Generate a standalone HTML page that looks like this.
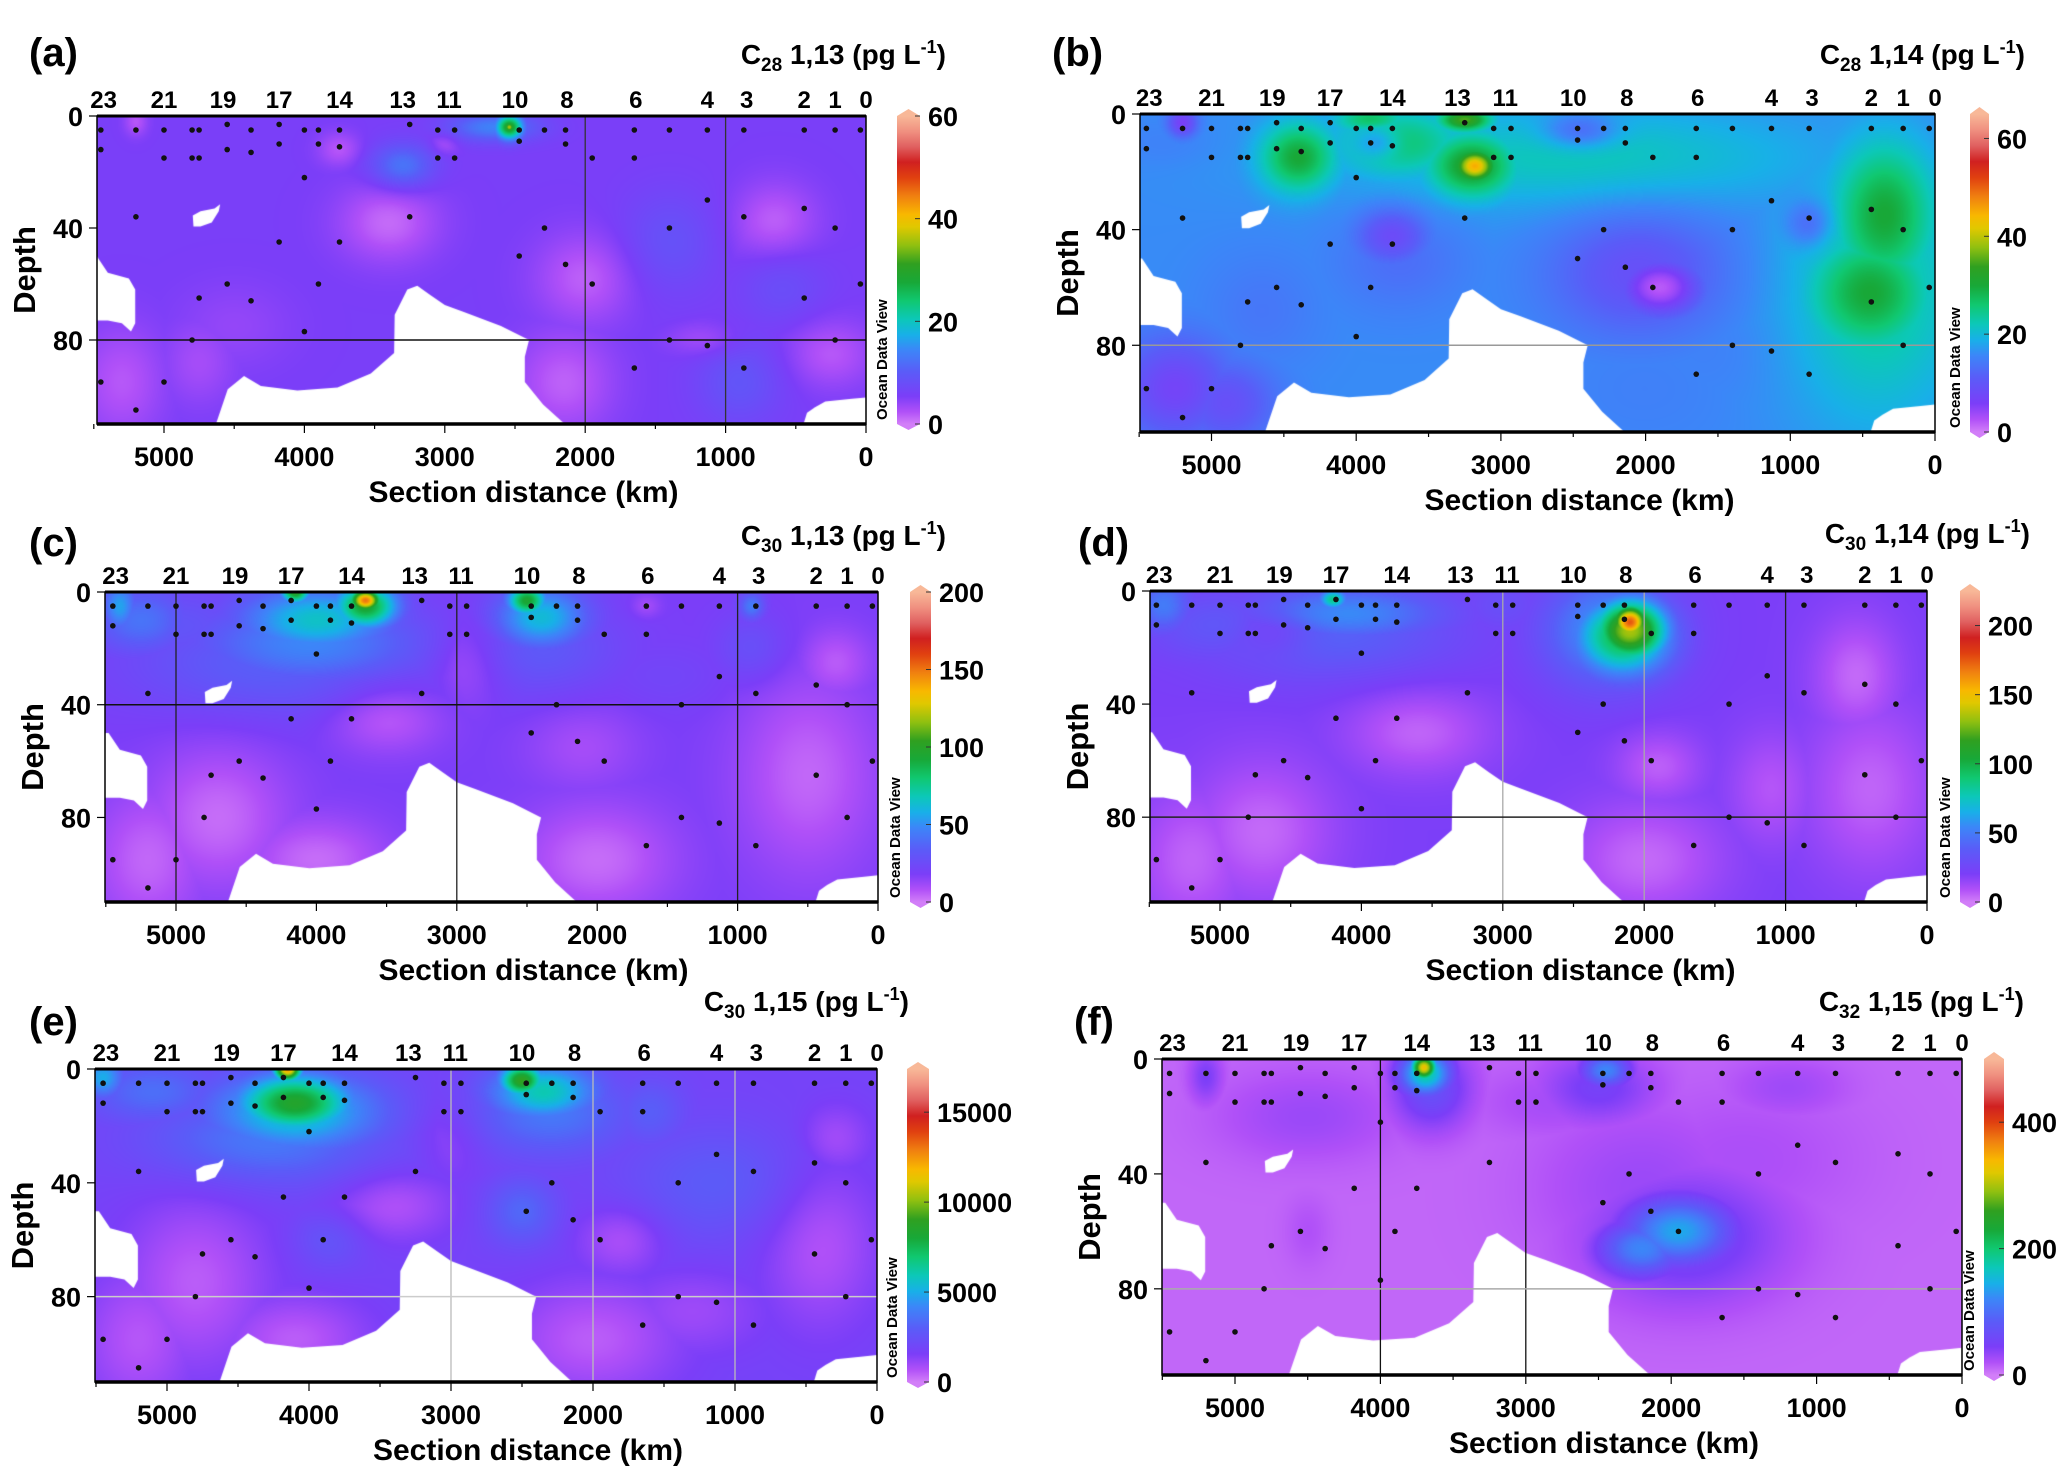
<!DOCTYPE html>
<html><head><meta charset="utf-8">
<style>
html,body{margin:0;padding:0;background:#fff;}
#wrap{position:relative;width:2067px;height:1466px;overflow:hidden;background:#fff;}
canvas{position:absolute;}
svg{position:absolute;left:0;top:0;}
text{font-family:"Liberation Sans",sans-serif;font-weight:bold;fill:#000;}
</style></head>
<body>
<div id="wrap">
<svg id="ov" width="2067" height="1466">
<defs>
<linearGradient id="cmap" x1="0" y1="1" x2="0" y2="0"></linearGradient>
</defs>
</svg>
</div>
<script>
// ---------- shared data ----------
const stationDist=[5430,5000,4580,4180,3750,3300,2970,2500,2130,1640,1130,850,440,220,0];
const stationLabels=['23','21','19','17','14','13','11','10','8','6','4','3','2','1','0'];
const sampleDist=[5450,5450,5450,5200,5200,5200,5000,5000,5000,4800,4800,4800,4750,4750,4750,4550,4550,4550,4380,4380,4380,4180,4180,4180,4000,4000,4000,3900,3900,3900,3750,3750,3750,3250,3250,3050,3050,2930,2930,2470,2470,2470,2290,2290,2140,2140,2140,1950,1950,1650,1650,1650,1400,1400,1400,1130,1130,1130,870,870,870,440,440,440,220,220,220,40,40];
const sampleDepth=[5,12,95,5,36,105,5,15,95,5,15,80,5,15,65,3,12,60,5,13,66,3,10,45,5,22,77,5,10,60,5,11,45,3,36,5,15,5,15,5,9,50,5,40,5,10,53,15,60,5,15,90,5,40,80,5,30,82,5,36,90,5,33,65,5,40,80,5,60];
const depthTicks=[0,40,80];
const distTicks=[5000,4000,3000,2000,1000,0];
const cmapPos=[0,0.04,0.09,0.17,0.24,0.29,0.34,0.40,0.46,0.52,0.58,0.64,0.68,0.74,0.80,0.85,0.90,0.95,1];
const cmapCol=['#d27ef8','#b050f8','#7b3ef8','#5a5cf8','#3c86f8','#18b0e8','#0cc8b8','#10c870','#18a838','#30a020','#90c010','#e0c800','#f8b800','#f08010','#e04010','#d02020','#e06060','#f09080','#f8b898'];
// seafloor / no-data masks (distance km, depth m)
const maskLeft=[[5700,50],[5480,50],[5400,56],[5250,58],[5205,62],[5205,74],[5235,77],[5300,74],[5400,73],[5700,73]];
const maskIsland=[[4790,39.5],[4795,35.5],[4740,34],[4640,33],[4600,31.5],[4610,34],[4660,38],[4740,39.5]];
const maskMid=[[4630,115],[4630,110],[4546,97.6],[4430,92.9],[4310,96.4],[4050,98],[3764,97],[3527,92],[3361,84.6],[3357,71],[3267,62],[3196,60.6],[3101,64],[3000,67.5],[2864,70],[2600,75],[2400,80],[2430,86],[2430,95],[2300,103],[2146,110],[2146,115]];
const maskRight=[[445,115],[445,110],[420,106],[363,104],[290,102],[100,101],[0,100.5],[-100,100.5],[-100,115]];

// ---------- per-panel values ----------
const blobsA=[[2540,4,36,40,2],[2540,4,30,100,4.5],[2650,4,14,320,5],[3300,18,13,220,8],[1400,45,8.5,350,18],[600,60,8,300,14],[900,95,9,300,15],
 [3400,38,1,350,14],[3750,12,2,150,6],[5200,2,2,80,5],[2000,58,1.5,350,16],[650,38,1.5,300,14],[5300,95,2,300,20],[4750,88,3,250,15],[2150,95,1.5,350,18],[250,85,2,300,12],[1150,80,3,250,6],[3000,10,3,100,4],[4500,75,4,400,15]];
const blobsB=[[2500,15,22,1600,17],[400,60,24,600,45],[350,35,30,350,25],[450,62,30,420,20],[4400,15,30,260,12],[3700,10,26,450,12],[3900,2,27,250,5],[3250,2,35,180,4],[3200,18,32,300,11],[3180,18,45,140,5.5],
 [1900,60,2,280,10],[2050,55,9,600,22],[3750,42,8,250,10],[3700,50,13,450,18],[870,38,10,150,8],[2450,6,9,250,6],[3850,10,9,150,5],[5200,3,6,100,5],[5250,95,7,400,18],[4900,100,9,350,15],[4650,68,14,400,20],[2000,95,15,650,22],[5300,10,15,350,8],[1500,80,15,500,20]];
const blobsC=[[3650,3,150,110,4],[3650,5,95,230,8],[4150,0,100,100,4],[4000,10,65,550,12],[4050,18,48,800,15],[4300,25,35,1000,18],[5400,5,55,120,9],[5250,10,42,350,12],[5000,12,30,600,14],[2500,3,95,140,5.5],[2400,9,62,330,11],[2400,20,32,550,16],[900,5,45,90,5],[900,20,28,250,12],[1500,30,22,500,12],
 [4700,80,3,500,25],[4000,95,3,500,15],[3500,45,5,400,12],[2000,95,3,550,20],[500,65,4,500,35],[300,25,6,250,12],[2900,25,9,250,15],[2100,55,10,400,15],[5200,95,4,400,25],[1650,5,10,100,4]];
const blobsD=[[2100,11,175,130,6],[2100,14,135,260,11],[2150,16,100,340,14],[2250,14,60,450,19],[5400,5,50,200,10],[5000,12,35,550,13],[4200,3,85,100,3.5],[4100,8,55,700,10],[4200,15,40,900,16],[3000,5,30,300,10],
 [4700,85,4,500,25],[3600,50,5,500,15],[2000,95,4,550,20],[1900,62,6,300,12],[500,30,4,300,20],[400,70,5,450,30],[1100,70,8,300,20],[4600,15,10,250,8],[5200,95,5,400,25]];
const blobsE=[[4150,0,12500,90,4],[4100,12,8500,400,10],[4100,15,5800,600,14],[4300,25,3800,800,15],[5450,3,5000,140,7],[5100,8,3500,450,11],[2500,4,9000,150,5.5],[2350,8,6000,380,10],[2300,15,3800,550,15],[1100,40,2900,700,20],[2500,50,3300,250,12],[3850,60,2600,250,10],[1600,15,3000,250,12],
 [4800,75,500,500,30],[4100,95,500,500,15],[3400,48,700,400,12],[2000,95,500,600,20],[1800,60,700,300,12],[400,60,600,400,30],[300,25,800,250,12],[3000,25,1200,250,15],[5200,95,600,400,25],[1300,85,1000,500,15]];
const blobsF=[[3700,3,330,90,4.5],[3690,5,180,180,8],[3650,10,70,260,14],[2450,4,120,170,6],[2500,10,50,380,12],[5200,6,45,110,9],[1950,60,140,380,12],[2200,66,120,300,10],[1900,62,60,650,22],[2200,45,30,700,28],[4500,20,30,600,15],[1200,10,28,400,10],[2800,15,25,500,12],[1500,35,22,800,25],[4500,60,20,150,12]];

const panels=[
 {id:'a',L:97,R:866,T:116,B:424,s:0.1404,cbx:897,cbw:23,max:60,bg:5.5,cbTicks:[0,20,40,60],sub:'28',name:'1,13',blobs:blobsA,
  tx:946,ty:64,lx:29,ly:66,vlines:[2000,1000],vcol:'#333',hlines:[80],hcol:'#111'},
 {id:'b',L:1140,R:1935,T:114,B:432,s:0.1447,cbx:1970,cbw:19,max:65,bg:16,cbTicks:[0,20,40,60],sub:'28',name:'1,14',blobs:blobsB,
  tx:2025,ty:64,lx:1052,ly:66,vlines:[],vcol:'#999',hlines:[80],hcol:'#999'},
 {id:'c',L:105,R:878,T:592,B:902,s:0.1404,cbx:910,cbw:21,max:200,bg:18,cbTicks:[0,50,100,150,200],sub:'30',name:'1,13',blobs:blobsC,
  tx:946,ty:545,lx:29,ly:556,vlines:[5000,3000,1000],vcol:'#222',hlines:[40],hcol:'#111'},
 {id:'d',L:1150,R:1927,T:591,B:902,s:0.1414,cbx:1960,cbw:20,max:225,bg:20,cbTicks:[0,50,100,150,200],sub:'30',name:'1,14',blobs:blobsD,
  tx:2030,ty:543,lx:1078,ly:556,vlines:[3000,2000],vcol:'#aaa',hlines:[80],hcol:'#222',vlines2:[1000]},
 {id:'e',L:95,R:877,T:1069,B:1382,s:0.142,cbx:907,cbw:22,max:17400,bg:1800,cbTicks:[0,5000,10000,15000],sub:'30',name:'1,15',blobs:blobsE,
  tx:909,ty:1011,lx:29,ly:1035,vlines:[3000,2000,1000],vcol:'#bbb',hlines:[80],hcol:'#ccc'},
 {id:'f',L:1162,R:1962,T:1059,B:1375,s:0.1454,cbx:1984,cbw:20,max:500,bg:10,cbTicks:[0,200,400],sub:'32',name:'1,15',blobs:blobsF,
  tx:2024,ty:1011,lx:1074,ly:1035,vlines:[4000,3000],vcol:'#111',hlines:[80],hcol:'#aaa'}
];
const DMAX=110;

// ---------- colormap ----------
function hex(c){return [parseInt(c.substr(1,2),16),parseInt(c.substr(3,2),16),parseInt(c.substr(5,2),16)];}
const cmapRGB=cmapCol.map(hex);
function cmap(f){
  f=Math.max(0,Math.min(1,f));
  for(let i=1;i<cmapPos.length;i++){
    if(f<=cmapPos[i]){const t=(f-cmapPos[i-1])/(cmapPos[i]-cmapPos[i-1]);const a=cmapRGB[i-1],b=cmapRGB[i];
      return [a[0]+(b[0]-a[0])*t,a[1]+(b[1]-a[1])*t,a[2]+(b[2]-a[2])*t];}
  }
  return cmapRGB[cmapRGB.length-1];
}
const grad=document.getElementById('cmap');
cmapPos.forEach((p,i)=>{const st=document.createElementNS('http://www.w3.org/2000/svg','stop');st.setAttribute('offset',p);st.setAttribute('stop-color',cmapCol[i]);grad.appendChild(st);});

const NS='http://www.w3.org/2000/svg';
const ov=document.getElementById('ov');
const wrap=document.getElementById('wrap');
function el(tag,attrs,parent,txt){const e=document.createElementNS(NS,tag);for(const k in attrs)e.setAttribute(k,attrs[k]);if(txt!==undefined)e.textContent=txt;(parent||ov).appendChild(e);return e;}

panels.forEach(p=>{
  const W=p.R-p.L,H=p.B-p.T;
  const xs=d=>p.R-d*p.s;
  const ys=z=>p.T+z/DMAX*H;
  const cv=document.createElement('canvas');
  cv.width=W;cv.height=H;cv.style.left=p.L+'px';cv.style.top=p.T+'px';
  
  
  wrap.insertBefore(cv,ov);
  const ctx=cv.getContext('2d');
  const img=ctx.createImageData(W,H);
  for(let py=0;py<H;py++){
    const z=(py+0.5)/H*DMAX;
    for(let px=0;px<W;px++){
      const d=(W-px-0.5)/p.s;
      let pos=0,neg=0;
      for(const b of p.blobs){
        const dx=(d-b[0])/b[3],dz=(z-b[1])/b[4];
        const e=dx*dx+dz*dz; if(e>12)continue;
        const c=(b[2]-p.bg)*Math.exp(-e);
        if(c>pos)pos=c; if(c<neg)neg=c;
      }
      const col=cmap((p.bg+pos+neg)/p.max);
      const i=(py*W+px)*4;
      img.data[i]=col[0];img.data[i+1]=col[1];img.data[i+2]=col[2];img.data[i+3]=255;
    }
  }
  ctx.putImageData(img,0,0);
  ctx.fillStyle='#fff';
  [maskLeft,maskIsland,maskMid,maskRight].forEach(m=>{
    ctx.beginPath();
    m.forEach((q,i)=>{const X=xs(q[0])-p.L,Y=ys(q[1])-p.T;if(i)ctx.lineTo(X,Y);else ctx.moveTo(X,Y);});
    ctx.closePath();ctx.fill();
  });

  const g=el('g',{});
  
  
  p.vlines.forEach(v=>{el('line',{x1:xs(v),x2:xs(v),y1:p.T,y2:p.B,stroke:p.vcol,'stroke-width':1.3},g);});
  (p.vlines2||[]).forEach(v=>{el('line',{x1:xs(v),x2:xs(v),y1:p.T,y2:p.B,stroke:'#222','stroke-width':1.3},g);});
  p.hlines.forEach(h=>{el('line',{x1:p.L,x2:p.R,y1:ys(h),y2:ys(h),stroke:p.hcol,'stroke-width':1.5},g);});
  sampleDist.forEach((d,i)=>{
    const c=el('circle',{cx:xs(d),cy:ys(sampleDepth[i]),r:2.8,fill:'#111'},g);
    
    
  });
  el('rect',{x:p.L,y:p.T,width:W,height:H,fill:'none',stroke:'#000','stroke-width':1.5},g);
  el('line',{x1:p.L,x2:p.R,y1:p.T,y2:p.T,stroke:'#000','stroke-width':3},g);
  el('line',{x1:p.L,x2:p.R,y1:p.B,y2:p.B,stroke:'#000','stroke-width':3.5},g);
  for(let d=0;d<=5500;d+=500){
    const major=d%1000===0;
    el('line',{x1:xs(d),x2:xs(d),y1:p.B,y2:p.B+(major?9:5),stroke:'#000','stroke-width':1.2},g);
  }
  distTicks.forEach(d=>{
    const t=el('text',{x:xs(d),y:p.B+42,'font-size':27,'text-anchor':'middle'},g,String(d));
    
    
  });
  const xt=el('text',{x:(p.L+p.R)/2+42,y:p.B+78,'font-size':30,'text-anchor':'middle'},g,'Section distance (km)');
  
  
  depthTicks.forEach(z=>{
    el('line',{x1:p.L-8,x2:p.L,y1:ys(z),y2:ys(z),stroke:'#000','stroke-width':1.2},g);
    const t=el('text',{x:p.L-14,y:ys(z)+10,'font-size':27,'text-anchor':'end'},g,String(z));
    
    
  });
  const yt=el('text',{x:0,y:0,'font-size':31,'text-anchor':'middle',transform:`translate(${p.L-62},${(p.T+p.B)/2}) rotate(-90)`},g,'Depth');
  
  
  stationDist.forEach((d,i)=>{
    const t=el('text',{x:xs(d),y:p.T-8,'font-size':24,'text-anchor':'middle'},g,stationLabels[i]);
    
    
  });
  const lt=el('text',{x:p.lx,y:p.ly,'font-size':40},g,'('+p.id+')');
  
  
  const tt=el('text',{x:p.tx,y:p.ty,'font-size':28,'text-anchor':'end'},g);
  
  
  el('tspan',{},tt,'C');
  el('tspan',{'font-size':19,dy:7},tt,p.sub);
  el('tspan',{dy:-7},tt,' '+p.name+' (pg L');
  el('tspan',{'font-size':18,dy:-11},tt,'-1');
  el('tspan',{dy:11},tt,')');
  const cb=el('g',{},g);
  
  
  el('rect',{x:p.cbx,y:p.T,width:p.cbw,height:H,fill:'url(#cmap)'},cb);
  el('polygon',{points:`${p.cbx},${p.T} ${p.cbx+p.cbw/2},${p.T-7} ${p.cbx+p.cbw},${p.T}`,fill:'#f8b898'},cb);
  el('polygon',{points:`${p.cbx},${p.B} ${p.cbx+p.cbw/2},${p.B+6} ${p.cbx+p.cbw},${p.B}`,fill:'#d27ef8'},cb);
  p.cbTicks.forEach(v=>{
    const y=p.B-v/p.max*H;
    el('line',{x1:p.cbx+p.cbw-5,x2:p.cbx+p.cbw,y1:y,y2:y,stroke:'#333','stroke-width':1},cb);
    const t=el('text',{x:p.cbx+p.cbw+8,y:y+10,'font-size':27},cb,String(v));
    
    
  });
  const odv=el('text',{x:0,y:0,'font-size':15,'text-anchor':'start',transform:`translate(${p.cbx-10},${p.B-4}) rotate(-90)`},g,'Ocean Data View');
  
  
});
</script>
</body></html>
